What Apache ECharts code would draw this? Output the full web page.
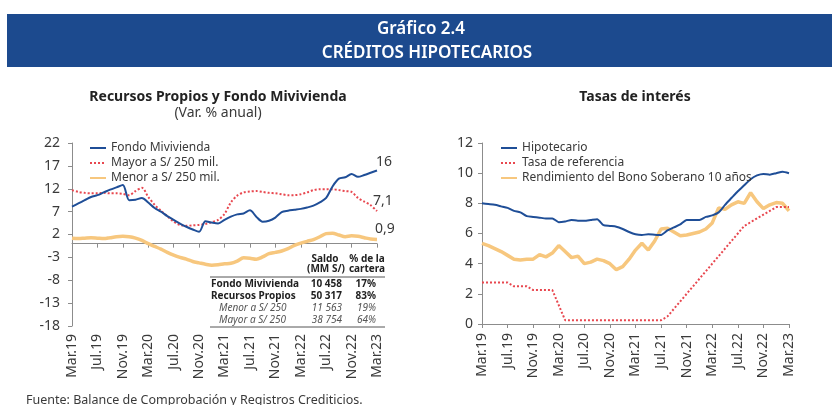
<!DOCTYPE html>
<html>
<head>
<meta charset="utf-8">
<script src="https://cdn.jsdelivr.net/npm/echarts@6/dist/echarts.min.js"></script>
<style>
  html, body { margin: 0; padding: 0; background: #fff; }
  #chart { width: 832px; height: 405px; }
</style>
</head>
<body>
<div id="chart"></div>
<script>
// meses, Mar.19 - Mar.23
const months = ['Mar.19','Abr.19','May.19','Jun.19','Jul.19','Ago.19','Set.19','Oct.19','Nov.19','Dic.19',
  'Ene.20','Feb.20','Mar.20','Abr.20','May.20','Jun.20','Jul.20','Ago.20','Set.20','Oct.20','Nov.20','Dic.20',
  'Ene.21','Feb.21','Mar.21','Abr.21','May.21','Jun.21','Jul.21','Ago.21','Set.21','Oct.21','Nov.21','Dic.21',
  'Ene.22','Feb.22','Mar.22','Abr.22','May.22','Jun.22','Jul.22','Ago.22','Set.22','Oct.22','Nov.22','Dic.22',
  'Ene.23','Feb.23','Mar.23'];

// Recursos Propios y Fondo Mivivienda (var. % anual)
const fondoMivivienda = [8.1,8.8,9.5,10.2,10.6,11.2,11.8,12.3,12.8,9.5,9.6,10.0,9.0,7.8,7.0,6.0,5.2,4.4,3.7,3.1,2.6,4.9,
  4.6,4.4,5.2,5.9,6.4,6.6,7.3,5.9,4.8,5.0,5.7,6.9,7.2,7.4,7.6,7.9,8.3,9.0,10.0,12.5,14.2,14.5,15.2,14.6,15.0,15.5,16.0];
const mayor250 = [11.7,11.3,11.1,11.0,11.0,11.1,11.0,11.0,10.9,10.6,11.5,12.2,10.2,8.5,7.2,6.0,4.8,4.1,3.9,4.0,4.1,4.3,
  4.7,5.2,6.5,9.0,10.5,11.2,11.4,11.5,11.3,11.1,11.0,10.8,10.6,10.6,10.8,11.2,11.7,11.9,11.9,11.9,11.7,11.5,11.3,10.0,9.2,8.4,7.1];
const menor250 = [1.2,1.1,1.2,1.3,1.2,1.1,1.3,1.5,1.6,1.5,1.2,0.7,0.0,-0.6,-1.2,-1.9,-2.5,-3.0,-3.4,-3.9,-4.2,-4.5,
  -4.7,-4.6,-4.4,-4.3,-3.8,-3.1,-3.2,-3.4,-2.9,-2.2,-1.9,-1.6,-1.1,-0.4,0.1,0.5,0.9,1.5,2.2,2.3,1.9,1.5,1.7,1.6,1.3,1.0,0.9];
const endLabels = ['16', '7,1', '0,9'];
const leftTicks = [-18, 22, 5];

// tabla
const tableHead = ['Saldo', '(MM S/)', '% de la', 'cartera'];
const tableRows = [
  ['Fondo Mivivienda', '10 458', '17%'],
  ['Recursos Propios', '50 317', '83%'],
  ['Menor a S/ 250', '11 563', '19%'],
  ['Mayor a S/ 250', '38 754', '64%']
];

// Tasas de interés (%)
const hipotecario = [8.0,7.95,7.9,7.8,7.7,7.5,7.4,7.15,7.1,7.05,7.0,7.0,6.75,6.8,6.9,6.85,6.85,6.9,6.95,6.55,6.5,6.45,
  6.3,6.1,5.95,5.9,5.95,5.92,5.9,6.2,6.4,6.6,6.9,6.9,6.9,7.1,7.2,7.4,7.9,8.35,8.8,9.2,9.6,9.85,9.95,9.9,10.0,10.1,10.0];
const tasaReferencia = [2.75,2.75,2.75,2.75,2.75,2.5,2.5,2.5,2.25,2.25,2.25,2.25,1.25,0.25,0.25,0.25,0.25,0.25,0.25,0.25,
  0.25,0.25,0.25,0.25,0.25,0.25,0.25,0.25,0.25,0.5,1.0,1.5,2.0,2.5,3.0,3.5,4.0,4.5,5.0,5.5,6.0,6.5,6.75,7.0,7.25,7.5,7.75,7.75,7.75];
const bono10 = [5.35,5.2,5.0,4.8,4.55,4.3,4.25,4.3,4.3,4.6,4.45,4.7,5.2,4.8,4.4,4.5,4.0,4.1,4.3,4.2,4.0,3.6,3.8,4.3,
  4.9,5.35,4.9,5.5,6.3,6.35,6.1,5.85,5.9,6.0,6.1,6.3,6.7,7.7,7.6,7.9,8.1,8.0,8.7,8.1,7.65,7.9,8.05,8.0,7.5];
const rightTicks = [0, 12, 2];

const FONT = 'Noto Sans';
const NARROW = "'Liberation Sans Narrow', 'Noto Sans'";
const BLUE = '#1F4E97';
const RED = '#E8474F';
const ORANGE = '#F7C77E';
const AXIS = '#8c8c8c';
const TXT = '#3a3a3a';

const myChart = echarts.init(document.getElementById('chart'), null, {renderer: 'canvas'});

function catAxis(gridIndex, extra) {
    return Object.assign({
        type: 'category',
        gridIndex: gridIndex,
        data: months,
        boundaryGap: false,
        axisLine: {show: false},
        axisTick: {show: false},
        axisLabel: {
            interval: 3, rotate: 90, margin: 8,
            fontFamily: NARROW, fontSize: 14, color: TXT
        },
        splitLine: {show: false}
    }, extra || {});
}

function valAxis(gridIndex, ticks, margin) {
    return {
        type: 'value',
        gridIndex: gridIndex,
        min: ticks[0], max: ticks[1], interval: ticks[2],
        axisLine: {show: true, lineStyle: {color: AXIS, width: 1}},
        axisTick: {show: true, length: 4, lineStyle: {color: AXIS}},
        axisLabel: {margin: margin, fontFamily: FONT, fontSize: 14, color: TXT},
        splitLine: {show: false}
    };
}

let tableGraphics = [];
const TF = '10px ' + FONT;
tableGraphics.push(
    {type: 'text', x: 325, y: 259, style: {text: tableHead[0], font: 'bold ' + TF, fill: '#222', align: 'center', verticalAlign: 'middle'}},
    {type: 'text', x: 326, y: 269, style: {text: tableHead[1], font: 'bold ' + TF, fill: '#222', align: 'center', verticalAlign: 'middle'}},
    {type: 'text', x: 367, y: 259, style: {text: tableHead[2], font: 'bold ' + TF, fill: '#222', align: 'center', verticalAlign: 'middle'}},
    {type: 'text', x: 367, y: 269, style: {text: tableHead[3], font: 'bold ' + TF, fill: '#222', align: 'center', verticalAlign: 'middle'}},
    {type: 'line', shape: {x1: 210, y1: 277, x2: 385, y2: 277}, style: {stroke: '#555', lineWidth: 1}},
    {type: 'line', shape: {x1: 210, y1: 327, x2: 385, y2: 327}, style: {stroke: '#555', lineWidth: 1}}
);
tableRows.forEach((row, i) => {
    const bold = i < 2;
    const font = (bold ? 'bold ' : 'italic ') + TF;
    const fill = bold ? '#222' : '#555';
    const y = 284 + i * 12;
    tableGraphics.push(
        {type: 'text', x: bold ? 211 : 219, y: y, style: {text: row[0], font: font, fill: fill, verticalAlign: 'middle'}},
        {type: 'text', x: 342, y: y, style: {text: row[1], font: font, fill: fill, align: 'right', verticalAlign: 'middle'}},
        {type: 'text', x: 376, y: y, style: {text: row[2], font: font, fill: fill, align: 'right', verticalAlign: 'middle'}}
    );
});

const legendBase = {
    orient: 'vertical', top: 137, itemWidth: 16, itemHeight: 10, itemGap: 3,
    itemStyle: {opacity: 0},
    textStyle: {fontFamily: FONT, fontSize: 12, color: TXT}
};

const option = {
    animation: false,
    backgroundColor: '#fff',
    textStyle: {fontFamily: FONT},
    graphic: [
        {type: 'rect', shape: {x: 7, y: 14, width: 830, height: 53}, style: {fill: '#1C4A8E'}},
        {type: 'text', x: 421, y: 29, style: {text: 'Gráfico 2.4', font: '600 17px ' + FONT, fill: '#fff', align: 'center', verticalAlign: 'middle'}},
        {type: 'text', x: 427, y: 53, style: {text: 'CRÉDITOS HIPOTECARIOS', font: '600 17px ' + FONT, fill: '#fff', align: 'center', verticalAlign: 'middle'}},
        {type: 'text', x: 218, y: 97, style: {text: 'Recursos Propios y Fondo Mivivienda', font: 'bold 14px ' + FONT, fill: '#222', align: 'center', verticalAlign: 'middle'}},
        {type: 'text', x: 218, y: 113, style: {text: '(Var. % anual)', font: '14px ' + FONT, fill: TXT, align: 'center', verticalAlign: 'middle'}},
        {type: 'text', x: 635, y: 97, style: {text: 'Tasas de interés', font: 'bold 14px ' + FONT, fill: '#222', align: 'center', verticalAlign: 'middle'}},
        {type: 'text', x: 26, y: 400, style: {text: 'Fuente: Balance de Comprobación y Registros Crediticios.', font: '12.5px ' + FONT, fill: TXT, verticalAlign: 'middle'}}
    ].concat(tableGraphics),
    legend: [
        Object.assign({}, legendBase, {left: 84, data: ['Fondo Mivivienda', 'Mayor a S/ 250 mil.', 'Menor a S/ 250 mil.']}),
        Object.assign({}, legendBase, {left: 495, data: ['Hipotecario', 'Tasa de referencia', 'Rendimiento del Bono Soberano 10 años']})
    ],
    grid: [
        {left: 72, right: 455, top: 143, bottom: 79},
        {left: 482, right: 43, top: 143, bottom: 81}
    ],
    xAxis: [
        catAxis(0, {position: 'bottom', axisLine: {show: false, onZero: false}}),
        catAxis(0, {
            position: 'bottom',
            axisLine: {show: true, onZero: true, lineStyle: {color: AXIS}},
            axisTick: {show: true, interval: 3, length: 4, inside: false, lineStyle: {color: AXIS}},
            axisLabel: {show: false}
        }),
        catAxis(1, {
            axisLine: {show: true, onZero: false, lineStyle: {color: AXIS}},
            axisTick: {show: true, interval: 3, length: 4, lineStyle: {color: AXIS}},
            axisLabel: {interval: 3, rotate: 90, margin: 9, fontFamily: NARROW, fontSize: 14, color: TXT}
        })
    ],
    yAxis: [
        valAxis(0, leftTicks, 12),
        valAxis(1, rightTicks, 9)
    ],
    series: [
        {
            name: 'Menor a S/ 250 mil.', type: 'line', xAxisIndex: 0, yAxisIndex: 0,
            data: menor250, symbol: 'none', smooth: 0.3, z: 1,
            lineStyle: {color: ORANGE, width: 3.5}, itemStyle: {color: ORANGE},
            endLabel: {show: true, formatter: endLabels[2], offset: [-10, -11], fontFamily: FONT, fontSize: 14, color: TXT}
        },
        {
            name: 'Mayor a S/ 250 mil.', type: 'line', xAxisIndex: 0, yAxisIndex: 0,
            data: mayor250, symbol: 'none', smooth: 0.3, z: 2,
            lineStyle: {color: RED, width: 2, type: 'dotted'}, itemStyle: {color: RED},
            endLabel: {show: true, formatter: endLabels[1], offset: [-12, -10], fontFamily: FONT, fontSize: 14, color: TXT}
        },
        {
            name: 'Fondo Mivivienda', type: 'line', xAxisIndex: 0, yAxisIndex: 0,
            data: fondoMivivienda, symbol: 'none', smooth: 0.3, z: 3,
            lineStyle: {color: BLUE, width: 2}, itemStyle: {color: BLUE},
            endLabel: {show: true, formatter: endLabels[0], offset: [-9, -8], fontFamily: FONT, fontSize: 14, color: TXT}
        },
        {
            name: 'Rendimiento del Bono Soberano 10 años', type: 'line', xAxisIndex: 2, yAxisIndex: 1,
            data: bono10, symbol: 'none', z: 1,
            lineStyle: {color: ORANGE, width: 3.5}, itemStyle: {color: ORANGE}
        },
        {
            name: 'Tasa de referencia', type: 'line', xAxisIndex: 2, yAxisIndex: 1,
            data: tasaReferencia, symbol: 'none', z: 2,
            lineStyle: {color: RED, width: 2, type: 'dotted'}, itemStyle: {color: RED}
        },
        {
            name: 'Hipotecario', type: 'line', xAxisIndex: 2, yAxisIndex: 1,
            data: hipotecario, symbol: 'none', smooth: 0.2, z: 3,
            lineStyle: {color: BLUE, width: 2}, itemStyle: {color: BLUE}
        }
    ]
};

myChart.setOption(option, true);
</script>
</body>
</html>
